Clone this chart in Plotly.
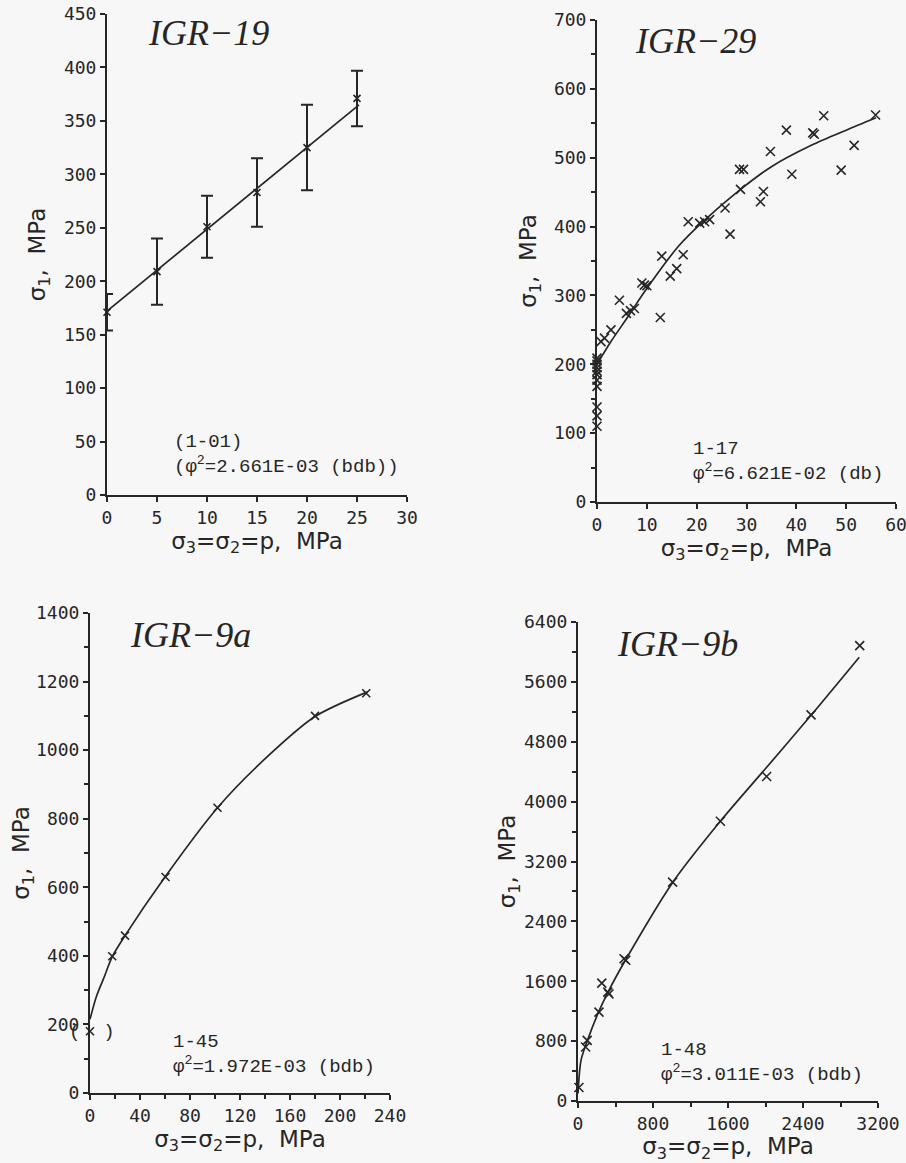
import plotly.graph_objects as go

W, H = 906, 1163

# ---------------- data ----------------
# IGR-19
p19 = [0, 5, 10, 15, 20, 25]
s19 = [171, 209, 251, 283, 325, 371]
e19 = [17, 31, 29, 32, 40, 26]
fit19_p = [0, 25.2]
fit19_s = [172, 365]

# IGR-29
p29 = [55.9, 45.5, 38.0, 43.3, 43.6, 51.6, 34.8, 49.0, 39.1, 28.6, 29.4, 28.8, 33.4, 32.8,
       25.7, 26.7, 22.6, 21.6, 20.6, 18.3, 13.0, 17.3, 16.0, 14.7, 9.0, 10.0, 9.5, 4.5,
       12.7, 6.7, 7.5, 5.9, 2.8, 1.5, 0.8,
       0, 0, 0, 0, 0, 0, 0, 0, 0, 0, 0]
s29 = [562, 561, 540, 536, 534, 518, 509, 482, 476, 483, 483, 454, 451, 436,
       427, 389, 410, 407, 405, 407, 357, 359, 339, 328, 318, 314, 315, 293,
       268, 278, 281, 274, 250, 238, 233,
       110, 125, 138, 168, 177, 185, 190, 195, 200, 205, 209]
fit29_p = [0, 2.8, 6.2, 9.5, 16.3, 21.7, 28.8, 35.0, 43.0, 50.0, 56.0]
fit29_s = [200, 233, 269, 305, 371, 410, 454, 487, 518, 540, 558]

# IGR-9a
p9a = [221, 180, 102, 60.4, 28, 17.8, 0]
s9a = [1166, 1100, 832, 630, 459, 399, 180]
fit9a_p = [0, 5, 11, 18, 28, 60, 102, 141, 180, 222]
fit9a_s = [215, 280, 335, 399, 459, 630, 832, 978, 1098, 1170]

# IGR-9b
p9b = [81, 98, 224, 254, 318, 330, 491, 510, 1009, 1519, 2012, 2486, 3005, 10]
s9b = [721, 810, 1188, 1575, 1455, 1430, 1901, 1880, 2924, 3738, 4335, 5159, 6084, 180]
fit9b_p = [0, 32, 98, 220, 320, 510, 1010, 1520, 2010, 2490, 3000]
fit9b_s = [100, 543, 800, 1190, 1455, 1890, 2920, 3740, 4455, 5160, 5930]

titles = ["IGR−19", "IGR−29", "IGR−9a", "IGR−9b"]
notes = ["(1-01)<br>(φ<sup>2</sup>=2.661E-03 (bdb))",
         "1-17<br>φ<sup>2</sup>=6.621E-02 (db)",
         "1-45<br>φ<sup>2</sup>=1.972E-03 (bdb)",
         "1-48<br>φ<sup>2</sup>=3.011E-03 (bdb)"]
x_ranges = [[0, 30], [0, 60], [0, 240], [0, 3200]]
y_ranges = [[0, 450], [0, 700], [0, 1400], [0, 6400]]
x_dticks = [5, 10, 40, 800]
y_dticks = [50, 100, 200, 800]
x_minor = [None, None, 20, 400]
y_minor = [None, 50, 100, 400]

# ---------------- layout geometry (pixels) ----------------
# (left, right, top, bottom) of each plot area
boxes = [(107, 407, 14, 495), (597, 896, 20, 502), (90, 390, 613, 1093), (578, 878, 622, 1101)]
title_pos = [(146, 33), (633, 41), (128, 635), (615, 644)]
note_pos = [(172, 429), (691, 436), (171, 1029), (659, 1037)]
ytitle_standoff = [12, 11, 0, 0]

INK = "#262626"
BG = "#f7f7f7"

def fx(x):
    return x / W

def fy(y):
    return 1 - y / H

fig = go.Figure()

marker = dict(symbol="x-thin", size=9, line=dict(width=1.6, color=INK), color=INK)
line = dict(color=INK, width=1.7)

# panel 1
fig.add_trace(go.Scatter(x=fit19_p, y=fit19_s, mode="lines", line=line, xaxis="x", yaxis="y",
                         showlegend=False, cliponaxis=False))
fig.add_trace(go.Scatter(x=p19, y=s19, mode="markers", marker=dict(marker, size=7),
                         error_y=dict(type="data", array=e19, color=INK, thickness=2, width=6),
                         xaxis="x", yaxis="y", showlegend=False, cliponaxis=False))
# panel 2
fig.add_trace(go.Scatter(x=fit29_p, y=fit29_s, mode="lines", line=dict(line, shape="spline", smoothing=0.8),
                         xaxis="x2", yaxis="y2", showlegend=False, cliponaxis=False))
fig.add_trace(go.Scatter(x=p29, y=s29, mode="markers", marker=marker,
                         xaxis="x2", yaxis="y2", showlegend=False, cliponaxis=False))
# panel 3
fig.add_trace(go.Scatter(x=fit9a_p, y=fit9a_s, mode="lines", line=dict(line, shape="spline", smoothing=0.8),
                         xaxis="x3", yaxis="y3", showlegend=False, cliponaxis=False))
fig.add_trace(go.Scatter(x=p9a, y=s9a, mode="markers", marker=dict(marker, size=8),
                         xaxis="x3", yaxis="y3", showlegend=False, cliponaxis=False))
# panel 4
fig.add_trace(go.Scatter(x=fit9b_p, y=fit9b_s, mode="lines", line=dict(line, shape="spline", smoothing=0.8),
                         xaxis="x4", yaxis="y4", showlegend=False, cliponaxis=False))
fig.add_trace(go.Scatter(x=p9b, y=s9b, mode="markers", marker=dict(marker, size=9),
                         xaxis="x4", yaxis="y4", showlegend=False, cliponaxis=False))

tickfont = dict(family="DejaVu Sans Mono", size=18, color=INK)
titlefont = dict(family="DejaVu Sans", size=23, color=INK)

layout = dict(width=W, height=H, margin=dict(l=0, r=0, t=0, b=0, autoexpand=False),
              paper_bgcolor=BG, plot_bgcolor=BG, showlegend=False, template="none")

for i in range(4):
    l, r, t, b = boxes[i]
    sfx = "" if i == 0 else str(i + 1)
    xa = dict(domain=[fx(l), fx(r)], range=x_ranges[i], dtick=x_dticks[i], tick0=0,
              anchor="y" + sfx, showline=True, linecolor=INK, linewidth=2, automargin=False,
              ticks="outside", ticklen=5, tickwidth=1.5, tickcolor=INK, ticklabeloverflow="allow",
              showgrid=False, zeroline=False, tickfont=tickfont,
              title=dict(text="σ<sub>3</sub>=σ<sub>2</sub>=p,\u00a0\u00a0MPa", font=titlefont, standoff=4))
    ya = dict(domain=[fy(b), fy(t)], range=y_ranges[i], dtick=y_dticks[i], tick0=0,
              anchor="x" + sfx, showline=True, linecolor=INK, linewidth=2, automargin=False,
              ticks="outside", ticklen=5, tickwidth=1.5, tickcolor=INK, ticklabeloverflow="allow",
              showgrid=False, zeroline=False, tickfont=tickfont,
              title=dict(text="σ<sub>1</sub>,\u00a0\u00a0MPa", font=titlefont, standoff=ytitle_standoff[i]))
    if x_minor[i]:
        xa["minor"] = dict(dtick=x_minor[i], ticks="outside", ticklen=4, tickcolor=INK, showgrid=False)
    if y_minor[i]:
        ya["minor"] = dict(dtick=y_minor[i], ticks="outside", ticklen=4, tickcolor=INK, showgrid=False)
    layout["xaxis" + sfx] = xa
    layout["yaxis" + sfx] = ya

annotations = []
for i in range(4):
    tx, ty = title_pos[i]
    annotations.append(dict(text="<i>" + titles[i] + "</i>", x=fx(tx), y=fy(ty), xref="paper", yref="paper",
                            xanchor="left", yanchor="middle", showarrow=False,
                            font=dict(family="Liberation Serif", size=36, color=INK)))
    nx, ny = note_pos[i]
    annotations.append(dict(text=notes[i], x=fx(nx), y=fy(ny), xref="paper", yref="paper",
                            xanchor="left", yanchor="top", align="left", showarrow=False,
                            font=dict(family="Liberation Mono", size=19, color=INK)))
annotations.append(dict(text="(\u00a0\u00a0)", x=fx(92), y=fy(1032), xref="paper", yref="paper",
                        xanchor="center", yanchor="middle", showarrow=False,
                        font=dict(family="Liberation Mono", size=19, color=INK)))
layout["annotations"] = annotations

fig.update_layout(**layout)
fig.write_html("out.html", config={"displayModeBar": False},
               post_script="document.body.style.margin='0';document.body.style.background='" + BG + "';")
